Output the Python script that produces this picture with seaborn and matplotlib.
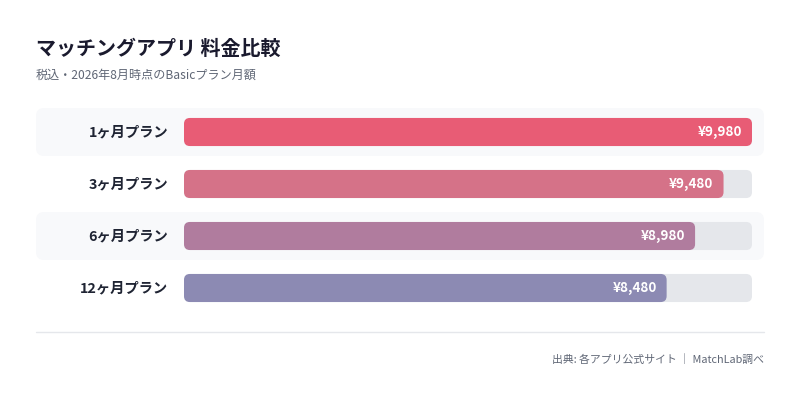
import matplotlib
matplotlib.use("Agg")
import matplotlib.pyplot as plt
from matplotlib.patches import FancyBboxPatch
from matplotlib.lines import Line2D
import seaborn as sns

# ----------------------------
# Data
# ----------------------------
plans = ["1ヶ月プラン", "3ヶ月プラン", "6ヶ月プラン", "12ヶ月プラン"]
prices = [9980, 9480, 8980, 8480]
value_labels = ["¥9,980", "¥9,480", "¥8,980", "¥8,480"]
bar_colors = ["#E85C75", "#D57288", "#B07C9E", "#8C8AB3"]

title = "マッチングアプリ 料金比較"
subtitle = "税込・2026年8月時点のBasicプラン月額"
source = "出典: 各アプリ公式サイト ｜ MatchLab調べ"

# ----------------------------
# Figure setup
# ----------------------------
sns.set_theme(style="white")
plt.rcParams["font.family"] = ["Noto Sans CJK JP", "DejaVu Sans"]

W, H = 800, 401
fig = plt.figure(figsize=(W / 100, H / 100), dpi=100)
fig.patch.set_facecolor("white")

# axes in pixel terms: x 184..752, y 106..314 (from top)
ax = fig.add_axes([184 / W, 1 - 314 / H, 568 / W, 208 / H])
sns.barplot(x=prices, y=plans, hue=plans, palette=bar_colors, ax=ax,
            width=0.54, legend=False, saturation=1)
ax.set_xlim(0, max(prices))
ax.set_ylim(len(plans) - 0.5, -0.5)
ax.axis("off")

# pixels per data unit
px_x = 568 / max(prices)
px_y = 208 / len(plans)
aspect = px_x / px_y


def rounded(x0, y0, w, h, color, r_px, z):
    p = FancyBboxPatch((x0, y0), w, h,
                       boxstyle=f"round,pad=0,rounding_size={r_px / px_x}",
                       mutation_aspect=aspect, facecolor=color,
                       edgecolor="none", clip_on=False, zorder=z)
    ax.add_patch(p)


# replace seaborn's rectangles with rounded ones
bars = list(ax.patches)
for bar in bars:
    x0, y0 = bar.get_x(), bar.get_y()
    w, h = bar.get_width(), bar.get_height()
    c = bar.get_facecolor()
    bar.remove()
    rounded(0, y0, max(prices), h, "#E5E7EB", 6, 1)
    rounded(x0, y0, w, h, c, 6, 2)

# striped row backgrounds
left_x = (36 - 184) / px_x
right_x = (764 - 184) / px_x
row_h = 48 / px_y
for i in range(0, len(plans), 2):
    rounded(left_x, i - row_h / 2, right_x - left_x, row_h, "#F8F9FB", 8, 0)

# labels and values
for i, (plan, price, lab) in enumerate(zip(plans, prices, value_labels)):
    ax.text(-16 / px_x, i, plan, ha="right", va="center", fontsize=10.3,
            fontweight="bold", color="#1F2433", zorder=3)
    ax.text(price - 10 / px_x, i, lab, ha="right", va="center", fontsize=9.7,
            fontweight="bold", color="white", zorder=3)

# titles
fig.text(36 / W, 1 - 48 / H, title, ha="left", va="center", fontsize=14.4,
         fontweight="bold", color="#1A1A2E")
fig.text(36 / W, 1 - 75 / H, subtitle, ha="left", va="center", fontsize=8.7,
         color="#5F6675")

# divider and source
fig.add_artist(Line2D([36 / W, 764 / W], [1 - 332 / H, 1 - 332 / H],
                      transform=fig.transFigure, color="#E5E7EB", lw=1))
fig.text(764 / W, 1 - 359 / H, source, ha="right", va="center", fontsize=7.8,
         color="#5F6675")

fig.savefig("out.png", dpi=100, facecolor="white")
